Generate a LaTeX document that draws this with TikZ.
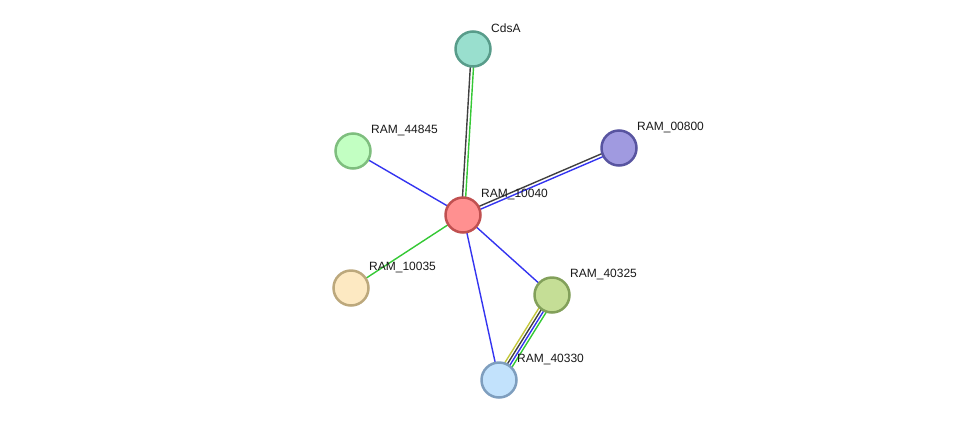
\documentclass[tikz,border=0pt]{standalone}
\usepackage{fontspec}
\setmainfont{Liberation Sans}
\usetikzlibrary{calc,positioning,backgrounds}
\definecolor{evblue}{RGB}{52,52,240}
\definecolor{evgreen}{RGB}{52,200,52}
\definecolor{evgrey}{RGB}{64,64,64}
\definecolor{evyellow}{RGB}{196,200,60}
\definecolor{cdsAfill}{RGB}{153,223,206}   \definecolor{cdsAline}{RGB}{88,156,138}
\definecolor{r44845fill}{RGB}{194,255,194} \definecolor{r44845line}{RGB}{126,190,126}
\definecolor{r00800fill}{RGB}{160,154,224} \definecolor{r00800line}{RGB}{88,84,160}
\definecolor{r10040fill}{RGB}{255,144,144} \definecolor{r10040line}{RGB}{192,80,80}
\definecolor{r10035fill}{RGB}{253,233,194} \definecolor{r10035line}{RGB}{188,168,124}
\definecolor{r40325fill}{RGB}{197,222,150} \definecolor{r40325line}{RGB}{130,160,90}
\definecolor{r40330fill}{RGB}{194,226,252} \definecolor{r40330line}{RGB}{126,158,190}

\begin{document}
\begin{tikzpicture}[x=1pt, y=-1pt,
  prot/.style={circle, fill=#1fill, draw=#1line, line width=2.5pt,
    minimum size=35pt, inner sep=0pt},
  lbl/.style={font=\fontsize{12}{14}\selectfont, text=black!90, anchor=west, inner sep=0pt},
  edge/.style={draw=#1, line width=1.4pt}]
\useasboundingbox (0,0) rectangle (976,426);

% proteins
\node[prot=cdsA]   (cdsA)   at (473,49)  {};
\node[prot=r44845] (r44845) at (353,151) {};
\node[prot=r00800] (r00800) at (619,148) {};
\node[prot=r10040] (r10040) at (463,215) {};
\node[prot=r10035] (r10035) at (351,288) {};
\node[prot=r40325] (r40325) at (552,295) {};
\node[prot=r40330] (r40330) at (499,380) {};

% names
\node[lbl] (lcdsA)   at ($(cdsA.center)+(18,-21)$)   {CdsA};
\node[lbl] (l44845)  at ($(r44845.center)+(18,-21)$) {RAM\_44845};
\node[lbl] (l00800)  at ($(r00800.center)+(18,-21)$) {RAM\_00800};
\node[lbl] (l10040)  at ($(r10040.center)+(18,-21)$) {RAM\_10040};
\node[lbl] (l10035)  at ($(r10035.center)+(18,-21)$) {RAM\_10035};
\node[lbl] (l40325)  at ($(r40325.center)+(18,-21)$) {RAM\_40325};
\node[lbl] (l40330)  at ($(r40330.center)+(18,-21)$) {RAM\_40330};

% evidence lines
\begin{scope}[on background layer]
\draw[edge=evblue]  (r10040.center) -- (r44845.center);
\draw[edge=evgreen] (r10040.center) -- (r10035.center);
\draw[edge=evblue]  (r10040.center) -- (r40325.center);
\draw[edge=evblue]  (r10040.center) -- (r40330.center);
\foreach \o/\c in {-1.6/evgrey, 1.6/evgreen}
  \draw[edge=\c] ($(cdsA.center)!\o pt!90:(r10040.center)$) -- ($(r10040.center)!\o pt!-90:(cdsA.center)$);
\foreach \o/\c in {1.6/evgrey, -1.6/evblue}
  \draw[edge=\c] ($(r10040.center)!\o pt!90:(r00800.center)$) -- ($(r00800.center)!\o pt!-90:(r10040.center)$);
\foreach \o/\c in {-4.2/evyellow, -1.4/evgrey, 1.4/evblue, 4.2/evgreen}
  \draw[edge=\c] ($(r40325.center)!\o pt!90:(r40330.center)$) -- ($(r40330.center)!\o pt!-90:(r40325.center)$);
\end{scope}

\end{tikzpicture}
\end{document}
